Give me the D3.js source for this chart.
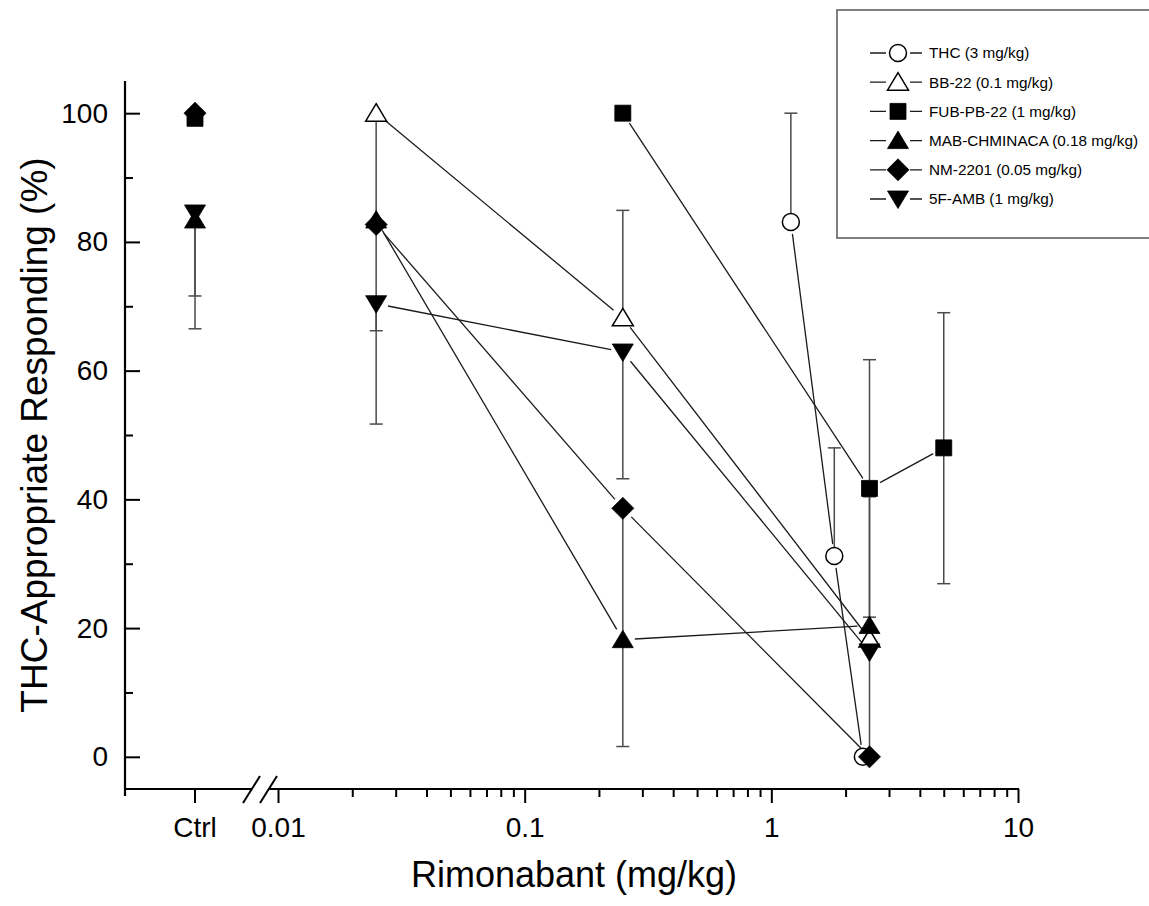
<!DOCTYPE html>
<html>
<head>
<meta charset="utf-8">
<script src="https://cdn.jsdelivr.net/npm/d3@7"></script>
<style>
  body { margin: 0; background: #fff; }
  svg { display: block; font-family: "Liberation Sans", Arial, sans-serif; }
</style>
</head>
<body>
<svg id="chart"></svg>
<script>
// series names (legend order)
const names = ["THC (3 mg/kg)", "BB-22 (0.1 mg/kg)", "FUB-PB-22 (1 mg/kg)",
               "MAB-CHMINACA (0.18 mg/kg)", "NM-2201 (0.05 mg/kg)", "5F-AMB (1 mg/kg)"];
const shapes = ["circle", "triUpOpen", "square", "triUp", "diamond", "triDown"];

// control (vehicle) values, null = not shown
const ctrlPct = [null, null, 99.2, 83.4, 100, 84.5];
const ctrlLo  = [null, null, null, 66.5, null, 71.6];

// rimonabant doses and % THC-appropriate responding
const thcDose = [1.2, 1.8, 2.35];
const thcPct  = [83.1, 31.2, 0];
const thcHi   = [100, 48, null];
const thcLo   = [null, null, null];

const bbDose = [0.025, 0.25, 2.5];
const bbPct  = [100, 68.2, 18.3];
const bbHi   = [null, 84.9, null];
const bbLo   = [83, null, null];

const fubDose = [0.25, 2.5, 5];
const fubPct  = [100, 41.7, 48];
const fubHi   = [null, 61.7, 69];
const fubLo   = [null, 21.7, 26.9];

const mabDose = [0.025, 0.25, 2.5];
const mabPct  = [83.4, 18.2, 20.4];
const mabHi   = [null, null, 40.4];
const mabLo   = [51.7, 1.6, 0.5];

const nmDose = [0.025, 0.25, 2.5];
const nmPct  = [82.7, 38.6, 0];
const nmHi   = [null, null, null];
const nmLo   = [null, 17.5, null];

const fDose = [0.025, 0.25, 2.5];
const fPct  = [70.4, 62.9, 16.3];
const fHi   = [null, null, null];
const fLo   = [66.2, 43.2, null];

const yTicks = [0, 20, 40, 60, 80, 100];
const yMinor = [10, 30, 50, 70, 90];
const xTicks = [0.01, 0.1, 1, 10];
const xTickLabels = ["0.01", "0.1", "1", "10"];

const toRows = (dose, pct, hi, lo) => dose.map((d, i) => ({x: d, y: pct[i], hi: hi[i], lo: lo[i]}));
const data = [
  toRows(thcDose, thcPct, thcHi, thcLo),
  toRows(bbDose, bbPct, bbHi, bbLo),
  toRows(fubDose, fubPct, fubHi, fubLo),
  toRows(mabDose, mabPct, mabHi, mabLo),
  toRows(nmDose, nmPct, nmHi, nmLo),
  toRows(fDose, fPct, fHi, fLo)
];

const width = 1149, height = 906;
const svg = d3.select("#chart").attr("width", width).attr("height", height);

const y = d3.scaleLinear().domain([-5, 105]).range([789, 81]);
const x = d3.scaleLog().domain([0.01, 10]).range([278, 1018]);
const xc = d3.scaleBand().domain(["Ctrl"]).range([125, 265]);
const ctrlX = xc("Ctrl") + xc.bandwidth() / 2;

function markerPath(kind) {
  switch (kind) {
    case "square": return "M-8,-8h16v16h-16Z";
    case "triUp":
    case "triUpOpen": return "M0,-9.5L10.5,8L-10.5,8Z";
    case "triDown": return "M0,9.5L10.5,-8L-10.5,-8Z";
    case "diamond": return "M0,-11L11,0L0,11L-11,0Z";
    default: return d3.symbol(d3.symbolCircle, Math.PI * 8.5 * 8.5)();
  }
}
const isOpen = k => k === "circle" || k === "triUpOpen";

function drawMarker(g, kind, cx, cy) {
  g.append("path")
    .attr("d", markerPath(kind))
    .attr("transform", `translate(${cx},${cy})`)
    .attr("fill", isOpen(kind) ? "#fff" : "#000")
    .attr("stroke", "#000")
    .attr("stroke-width", isOpen(kind) ? 1.5 : 0.8);
}

// connecting lines, stopped short of the markers
const gap = 12;
const lineG = svg.append("g").attr("stroke", "#1a1a1a").attr("stroke-width", 1.3);
data.forEach(rows => {
  for (let i = 0; i < rows.length - 1; i++) {
    const x1 = x(rows[i].x), y1 = y(rows[i].y);
    const x2 = x(rows[i + 1].x), y2 = y(rows[i + 1].y);
    const len = Math.hypot(x2 - x1, y2 - y1);
    const ux = (x2 - x1) / len, uy = (y2 - y1) / len;
    lineG.append("line")
      .attr("x1", x1 + ux * gap).attr("y1", y1 + uy * gap)
      .attr("x2", x2 - ux * gap).attr("y2", y2 - uy * gap);
  }
});

// error bars
const errG = svg.append("g").attr("stroke", "#4a4a4a").attr("stroke-width", 1.5);
function errBar(cx, v, end) {
  if (end == null) return;
  errG.append("line").attr("x1", cx).attr("x2", cx).attr("y1", y(v)).attr("y2", y(end));
  errG.append("line").attr("x1", cx - 6.5).attr("x2", cx + 6.5).attr("y1", y(end)).attr("y2", y(end));
}
data.forEach((rows, s) => {
  rows.forEach(r => { errBar(x(r.x), r.y, r.hi); errBar(x(r.x), r.y, r.lo); });
  if (ctrlPct[s] != null) errBar(ctrlX, ctrlPct[s], ctrlLo[s]);
});

// markers
const mG = svg.append("g");
data.forEach((rows, s) => {
  if (ctrlPct[s] != null) drawMarker(mG, shapes[s], ctrlX, y(ctrlPct[s]));
  rows.forEach(r => drawMarker(mG, shapes[s], x(r.x), y(r.y)));
});

// axes
const axisFont = g => g.selectAll("text").attr("font-size", 28).attr("fill", "#000")
  .attr("font-family", "'Liberation Sans', Arial, sans-serif");

const yAx = svg.append("g").attr("transform", "translate(125,0)")
  .call(d3.axisLeft(y).tickValues(yTicks).tickSizeInner(-15).tickSizeOuter(0).tickPadding(17))
  .call(axisFont);
yAx.select(".domain").remove();
yAx.selectAll(".tick line").attr("stroke-width", 2);
const yAxMinor = svg.append("g").attr("transform", "translate(125,0)")
  .call(d3.axisLeft(y).tickValues(yMinor).tickSizeInner(-8).tickSizeOuter(0).tickFormat(""));
yAxMinor.select(".domain").remove();
yAxMinor.selectAll(".tick line").attr("stroke-width", 2);

const xMinorVals = [];
[0.01, 0.1, 1].forEach(dec => { for (let k = 2; k <= 9; k++) xMinorVals.push(dec * k); });

const xAx = svg.append("g").attr("transform", "translate(0,789)")
  .call(d3.axisBottom(x).tickValues(xTicks).tickFormat((d, i) => xTickLabels[i])
    .tickSizeInner(14).tickSizeOuter(0).tickPadding(14))
  .call(axisFont);
xAx.select(".domain").remove();
xAx.selectAll(".tick line").attr("stroke-width", 2);
const xAxMinor = svg.append("g").attr("transform", "translate(0,789)")
  .call(d3.axisBottom(x).tickValues(xMinorVals).tickSizeInner(8).tickSizeOuter(0).tickFormat(""));
xAxMinor.select(".domain").remove();
xAxMinor.selectAll(".tick line").attr("stroke-width", 2);

const xcAx = svg.append("g").attr("transform", "translate(0,789)")
  .call(d3.axisBottom(xc).tickSizeInner(14).tickSizeOuter(0).tickPadding(14))
  .call(axisFont);
xcAx.select(".domain").remove();
xcAx.selectAll(".tick line").attr("stroke-width", 2);

// axis lines with break
svg.append("line").attr("x1", 125).attr("x2", 125).attr("y1", y(105)).attr("y2", 796)
  .attr("stroke", "#000").attr("stroke-width", 2.2);
svg.append("line").attr("x1", 124).attr("x2", 252).attr("y1", 789).attr("y2", 789)
  .attr("stroke", "#000").attr("stroke-width", 2.2);
svg.append("line").attr("x1", 269).attr("x2", 1019).attr("y1", 789).attr("y2", 789)
  .attr("stroke", "#000").attr("stroke-width", 2.2);
[[243, 260], [260, 277]].forEach(([a, b]) => {
  svg.append("line").attr("x1", a).attr("y1", 803).attr("x2", b).attr("y2", 776)
    .attr("stroke", "#000").attr("stroke-width", 2);
});

// axis titles
svg.append("text").attr("x", 574).attr("y", 887).attr("text-anchor", "middle")
  .attr("font-size", 36).text("Rimonabant (mg/kg)");
svg.append("text").attr("transform", "translate(47,435) rotate(-90)").attr("text-anchor", "middle")
  .attr("font-size", 37).text("THC-Appropriate Responding (%)");

// legend
const leg = svg.append("g");
leg.append("rect").attr("x", 837).attr("y", 10).attr("width", 330).attr("height", 228)
  .attr("fill", "#fff").attr("stroke", "#555").attr("stroke-width", 1.5);
names.forEach((n, i) => {
  const ly = 53 + i * 29.2;
  leg.append("line").attr("x1", 870).attr("x2", 922).attr("y1", ly).attr("y2", ly)
    .attr("stroke", "#1a1a1a").attr("stroke-width", 1.3);
  leg.append("rect").attr("x", 886).attr("y", ly - 12).attr("width", 24).attr("height", 24).attr("fill", "#fff");
  drawMarker(leg, shapes[i], 898, ly);
  leg.append("text").attr("x", 929).attr("y", ly).attr("dy", "0.35em")
    .attr("font-size", 15.3).text(n);
});
</script>
</body>
</html>
